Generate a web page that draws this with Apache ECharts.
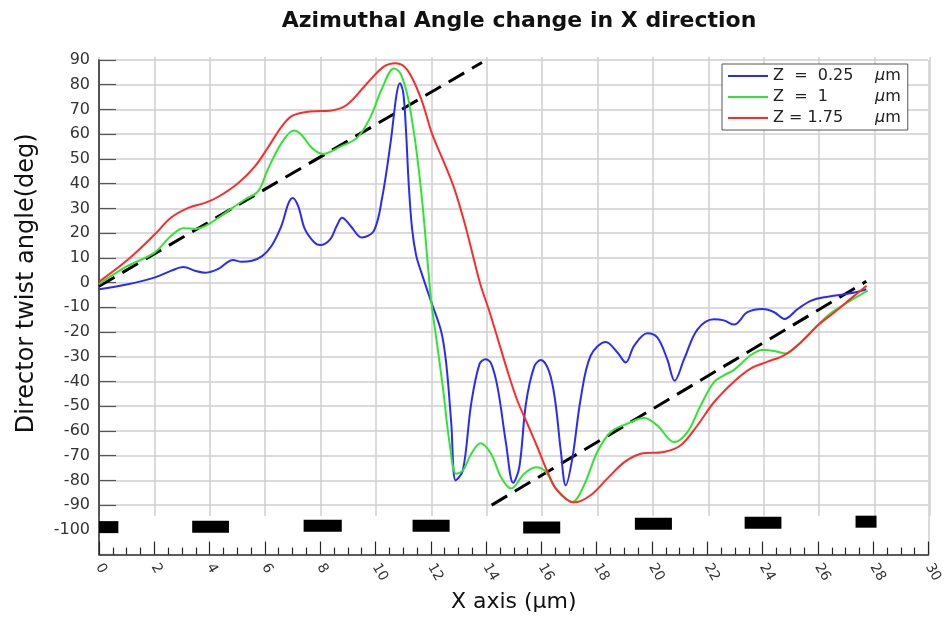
<!DOCTYPE html>
<html>
<head>
<meta charset="utf-8">
<title>Azimuthal Angle change in X direction</title>
<script src="https://cdn.jsdelivr.net/npm/echarts@6/dist/echarts.min.js"></script>
<style>
  html, body { margin: 0; padding: 0; background: #fff; overflow: hidden; }
  #chart { width: 945px; height: 618px; }
</style>
</head>
<body>
<div id="chart"></div>
<script>
// ---- data: [x (um), angle (deg)] ----
var seriesNames = ['Z  =  0.25', 'Z  =  1', 'Z = 1.75'];

var blueZ025 = [
  [0, -2.7], [1, -0.8], [2, 2], [2.6, 4.7], [3.05, 6.3], [3.5, 4.7], [3.85, 4.0], [4.3, 5.4],
  [4.85, 9.1], [5.15, 8.4], [5.5, 8.7], [5.9, 10.7], [6.25, 15], [6.6, 23], [6.85, 32], [7.0, 34.2],
  [7.2, 31], [7.45, 21.5], [7.8, 16.1], [8.0, 15.2], [8.36, 17.5], [8.6, 23], [8.79, 26.2], [9.1, 22.9],
  [9.5, 18.2], [9.94, 20.9], [10.24, 34.3], [10.55, 57], [10.76, 76], [10.88, 80.6], [11.0, 77],
  [11.1, 62], [11.2, 40], [11.32, 22], [11.47, 11], [11.66, 4], [12.02, -8], [12.38, -20], [12.56, -33],
  [12.74, -57], [12.9, -80], [13.16, -76], [13.46, -49], [13.76, -33], [13.98, -31], [14.18, -32.7],
  [14.42, -42.7], [14.72, -65], [14.98, -81], [15.2, -74.7], [15.44, -49], [15.74, -34], [15.98, -31.3],
  [16.28, -36], [16.5, -48], [16.7, -68], [16.88, -82], [17.12, -71], [17.42, -47], [17.78, -29.6],
  [18.33, -24], [18.75, -28.3], [19.05, -32.3], [19.35, -25.6], [19.83, -20.5], [20.19, -22.2],
  [20.55, -31], [20.82, -39.7], [21.16, -31], [21.64, -19], [22.24, -14.8], [22.6, -15.3], [22.97, -17],
  [23.45, -12], [24, -10.7], [24.42, -12], [24.79, -14.7], [25.27, -10.7], [25.76, -7.3], [26.36, -5.7],
  [26.97, -4.7], [27.45, -3.7], [27.75, -2.7]
];

var greenZ1 = [
  [0, -0.7], [1, 6.5], [2, 12], [2.6, 18.8], [3.05, 22], [3.5, 21.7], [3.95, 23.5], [4.67, 29],
  [5.28, 33.6], [5.76, 37], [6.1, 45.6], [6.6, 56.4], [7.05, 61.5], [7.33, 59.7], [7.7, 54.4], [8.1, 52],
  [8.73, 55], [9.33, 58.5], [9.8, 66.5], [10.24, 78.6], [10.67, 86.6], [10.9, 84.6], [11.15, 76],
  [11.33, 65], [11.5, 51.7], [11.7, 31.6], [11.88, 8.8], [12.02, -8], [12.2, -22.7], [12.44, -42.7],
  [12.68, -65], [12.92, -77.3], [13.16, -76], [13.46, -69.3], [13.8, -65], [14.18, -69.3], [14.54, -78.7],
  [14.9, -83.3], [15.38, -77.3], [15.8, -74.7], [16.16, -76.5], [16.5, -83], [17.12, -88.7], [17.54, -82],
  [18.02, -68.5], [18.5, -60.5], [19.1, -57.1], [19.71, -54.8], [20.19, -57.8], [20.8, -64.5],
  [21.28, -60.5], [21.76, -49.7], [22.24, -40.3], [22.6, -37.5], [22.97, -35.3], [23.58, -29.3],
  [24, -27.3], [24.42, -27.7], [24.85, -28.7], [25.27, -25.3], [25.76, -20], [26.36, -13.3],
  [26.97, -8.7], [27.58, -4.7], [27.8, -3.3]
];

var redZ175 = [
  [0, 0.3], [1.06, 9.4], [2.02, 19.5], [2.6, 26.2], [3.23, 30.2], [3.83, 32.2], [4.3, 34.6], [5.04, 40.3],
  [5.64, 47], [6.1, 54.4], [6.6, 63], [7.0, 67.5], [7.64, 69.2], [8.36, 69.5], [8.97, 71.9], [9.7, 80.6],
  [10.3, 87.3], [10.73, 88.7], [11.15, 86], [11.64, 74.6], [12.05, 60], [12.5, 48], [12.85, 38],
  [13.2, 25], [13.5, 12], [13.8, -1], [14.1, -11], [14.42, -22.7], [14.78, -36], [15.14, -48],
  [15.5, -57.3], [15.86, -66.7], [16.2, -76], [16.57, -84], [17.18, -88.9], [17.78, -86], [18.38, -79.3],
  [19, -72.6], [19.6, -69.2], [20.43, -68.5], [21.04, -65.8], [21.64, -57.8], [22.24, -48.4],
  [22.97, -40], [23.58, -34.7], [24.18, -32], [24.79, -29.3], [25.4, -24], [26, -17.3], [26.6, -12],
  [27.2, -6.4], [27.76, -1.3]
];

// black dashed guide lines (start, end)
var guideUp = [[0, -1.5], [13.85, 89]];
var guideDown = [[14.2, -90], [27.75, 0.5]];

// electrodes along the bottom: [xStart, xEnd, yCenter]
var electrodes = [
  [0, 0.7, -98.9], [3.37, 4.7, -98.7], [7.4, 8.78, -98.3], [11.34, 12.68, -98.3],
  [15.34, 16.68, -99.1], [19.38, 20.72, -97.5], [23.35, 24.68, -97.1], [27.36, 28.12, -96.7]
];

var FONT = 'DejaVu Sans';
var gridGray = '#cfcfcf';
var axisDark = '#262626';

// horizontal grid only from -90 to 90 (ticks are -110..90)
var hLineColors = [];
for (var i = -110; i <= 90; i += 10) {
  hLineColors.push(i < -90 ? 'rgba(0,0,0,0)' : gridGray);
}
// outer x split lines: only the right border at 30
var vBorderColors = [];
for (var j = 0; j <= 30; j += 2) {
  vBorderColors.push(j === 30 ? gridGray : 'rgba(0,0,0,0)');
}

var chart = echarts.init(document.getElementById('chart'), null, { renderer: 'canvas' });

var option = {
  backgroundColor: '#fff',
  animation: false,
  title: {
    text: 'Azimuthal Angle change in X direction',
    left: 514,
    textAlign: 'center',
    top: 5,
    textStyle: { fontFamily: FONT, fontSize: 22, fontWeight: 'bold', color: '#111' }
  },
  legend: {
    orient: 'vertical',
    left: 722,
    top: 64,
    padding: [4, 7, 4, 6],
    itemGap: 5,
    itemWidth: 40,
    itemHeight: 2,
    icon: 'rect',
    backgroundColor: '#fff',
    borderColor: '#555',
    borderWidth: 1,
    data: seriesNames,
    formatter: function (name) {
      return '{a|' + name + '}{u|μ}m';
    },
    textStyle: {
      fontFamily: FONT,
      fontSize: 16,
      color: '#222',
      rich: {
        a: { fontFamily: FONT, fontSize: 16, color: '#222', width: 102 },
        u: { fontFamily: FONT, fontSize: 16, color: '#222', fontStyle: 'italic' }
      }
    }
  },
  grid: [
    // main axes (labels, ticks, horizontal grid)
    { left: 99, right: 15, top: 60, bottom: 60 },
    // inner box for vertical grid lines only
    { left: 99, right: 15, top: 57, bottom: 102 }
  ],
  xAxis: [
    {
      gridIndex: 0,
      type: 'value',
      min: 0,
      max: 30,
      interval: 2,
      name: 'X axis (μm)',
      nameLocation: 'middle',
      nameGap: 32,
      nameTextStyle: { fontFamily: FONT, fontSize: 22, color: '#111' },
      axisLine: { show: true, onZero: false, lineStyle: { color: axisDark, width: 1.5 } },
      axisTick: { show: true, inside: true, length: 13, lineStyle: { color: axisDark, width: 1.2 } },
      minorTick: { show: true, splitNumber: 4, length: 7, lineStyle: { color: axisDark, width: 1.2 } },
      axisLabel: {
        rotate: -60,
        margin: 10,
        fontFamily: FONT,
        fontSize: 14,
        color: '#333'
      },
      splitLine: { show: true, lineStyle: { color: vBorderColors, width: 1.5 } }
    },
    {
      gridIndex: 1,
      type: 'value',
      min: 0,
      max: 30,
      interval: 2,
      axisLine: { show: false },
      axisTick: { show: false },
      axisLabel: { show: false },
      splitLine: { show: true, lineStyle: { color: gridGray, width: 1.5 } }
    }
  ],
  yAxis: [
    {
      gridIndex: 0,
      type: 'value',
      min: -110,
      max: 90,
      interval: 10,
      name: 'Director twist angle(deg)',
      nameLocation: 'middle',
      nameGap: 60,
      nameTextStyle: { fontFamily: FONT, fontSize: 24, color: '#111', padding: [0, 0, 0, 48] },
      axisLine: { show: true, onZero: false, lineStyle: { color: axisDark, width: 1.5 } },
      axisTick: { show: true, inside: true, length: 17, lineStyle: { color: '#555', width: 1.2 } },
      axisLabel: {
        margin: 9,
        fontFamily: FONT,
        fontSize: 16,
        color: '#333',
        formatter: function (v) { return v < -100 ? '' : String(v); }
      },
      splitLine: { show: true, lineStyle: { color: hLineColors, width: 1.5 } }
    },
    {
      gridIndex: 1,
      type: 'value',
      min: 0,
      max: 1,
      axisLine: { show: false },
      axisTick: { show: false },
      axisLabel: { show: false },
      splitLine: { show: false }
    }
  ],
  series: [
    {
      name: 'guide1',
      type: 'line',
      data: guideUp,
      showSymbol: false,
      silent: true,
      lineStyle: { color: '#000', width: 3, type: [18, 9] },
      z: 3
    },
    {
      name: 'guide2',
      type: 'line',
      data: guideDown,
      showSymbol: false,
      silent: true,
      lineStyle: { color: '#000', width: 3, type: [18, 9] },
      z: 3
    },
    {
      name: seriesNames[0],
      type: 'line',
      data: blueZ025,
      smooth: 0.35,
      showSymbol: false,
      color: '#2a2aff',
      lineStyle: { width: 2 },
      z: 4
    },
    {
      name: seriesNames[1],
      type: 'line',
      data: greenZ1,
      smooth: 0.35,
      showSymbol: false,
      color: '#2ee62e',
      lineStyle: { width: 2 },
      z: 4
    },
    {
      name: seriesNames[2],
      type: 'line',
      data: redZ175,
      smooth: 0.35,
      showSymbol: false,
      color: '#ff2a2a',
      lineStyle: { width: 2 },
      z: 4
    },
    {
      name: 'electrodes',
      type: 'custom',
      data: electrodes,
      clip: false,
      silent: true,
      z: 5,
      renderItem: function (params, api) {
        var p0 = api.coord([api.value(0), api.value(2)]);
        var p1 = api.coord([api.value(1), api.value(2)]);
        return {
          type: 'rect',
          shape: { x: p0[0], y: p0[1] - 6, width: p1[0] - p0[0], height: 12 },
          style: { fill: '#000' }
        };
      }
    }
  ]
};

chart.setOption(option);
</script>
</body>
</html>
